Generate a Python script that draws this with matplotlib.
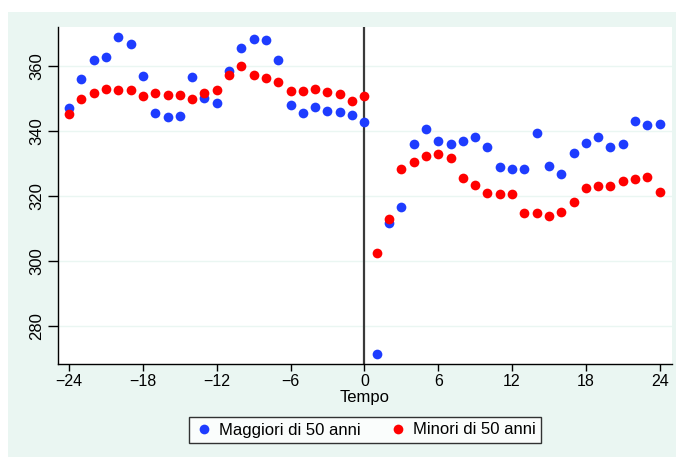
import matplotlib
matplotlib.use("Agg")
import matplotlib.pyplot as plt
from matplotlib.patches import Rectangle

plt.rcParams['font.family'] = ['Liberation Sans', 'DejaVu Sans']

tempo = list(range(-24, 25))

maggiori = [347.1, 356.1, 362.0, 362.8, 368.8, 366.8, 356.9, 345.6, 344.2, 344.6,
            356.5, 350.2, 348.7, 358.5, 365.4, 368.2, 367.9, 361.8, 348.0, 345.7,
            347.4, 346.2, 345.9, 344.8, 342.9,
            271.6, 311.7, 316.6, 336.0, 340.5, 337.1, 335.9, 337.0, 338.2, 335.2,
            328.9, 328.2, 328.4, 339.4, 329.3, 326.9, 333.3, 336.4, 338.2, 335.0,
            336.0, 343.0, 341.8, 342.3]

minori = [345.3, 349.9, 351.7, 353.0, 352.5, 352.6, 350.9, 351.6, 351.1, 351.0,
          349.9, 351.6, 352.5, 357.3, 359.9, 357.2, 356.2, 355.0, 352.4, 352.3,
          352.8, 351.9, 351.3, 349.1, 350.9,
          302.4, 313.0, 328.5, 330.5, 332.4, 333.1, 331.6, 325.7, 323.5, 320.9,
          320.7, 320.7, 314.9, 314.7, 314.0, 315.2, 318.2, 322.5, 323.0, 323.0,
          324.7, 325.2, 325.8, 321.3]

xticks = [-24, -18, -12, -6, 0, 6, 12, 18, 24]
yticks = [280, 300, 320, 340, 360]

W, H = 676, 457
fig = plt.figure(figsize=(W / 100, H / 100), dpi=100)
fig.patch.set_facecolor('white')

# tinted graph region
bg = '#eaf6f2'
fig.add_artist(Rectangle((8 / W, 0), 1 - 8 / W, 1 - 12 / H,
                         transform=fig.transFigure, facecolor=bg,
                         edgecolor='none', zorder=0))

ax = fig.add_axes([58 / W, 1 - 364 / H, (672 - 58) / W, (364 - 27) / H])
ax.set_facecolor('white')

ax.set_xlim(-24.9, 25.0)
ax.set_ylim(268.4, 372.0)

for y in yticks:
    ax.axhline(y, color='#eaf6f2', lw=1.0, zorder=0)

ax.axvline(0, color='#3a3a3a', lw=1.6, zorder=1)

blue = '#1e3cff'
red = '#ff0000'
ax.plot(tempo, maggiori, 'o', color=blue, ms=7.0, mew=0, zorder=3,
        label='Maggiori di 50 anni')
ax.plot(tempo, minori, 'o', color=red, ms=7.0, mew=0, zorder=3,
        label='Minori di 50 anni')

for s in ['top', 'right']:
    ax.spines[s].set_visible(False)
for s in ['left', 'bottom']:
    ax.spines[s].set_color('black')
    ax.spines[s].set_linewidth(1.0)

ax.set_xticks(xticks)
ax.set_xticklabels([str(t).replace('-', '\u2212') for t in xticks])
ax.set_yticks(yticks)
ax.set_yticklabels([str(t) for t in yticks], rotation=90, va='center')
ax.tick_params(axis='x', direction='out', length=5, width=1.0,
               labelsize=11.5, color='black', pad=2)
ax.tick_params(axis='y', direction='out', length=7, width=1.0,
               labelsize=12, color='black', pad=3)

ax.set_xlabel('Tempo', fontsize=12, labelpad=1)

leg = fig.legend(loc='center', bbox_to_anchor=(365 / W, 1 - 430 / H),
                 ncol=2, frameon=True, fancybox=False, fontsize=12,
                 handletextpad=0.3, columnspacing=1.6, borderpad=0.35,
                 handlelength=1.2, markerscale=1.0)
leg.get_frame().set_edgecolor('black')
leg.get_frame().set_linewidth(1.0)
leg.get_frame().set_facecolor('white')

fig.savefig('out.png', dpi=100, facecolor=fig.get_facecolor())
